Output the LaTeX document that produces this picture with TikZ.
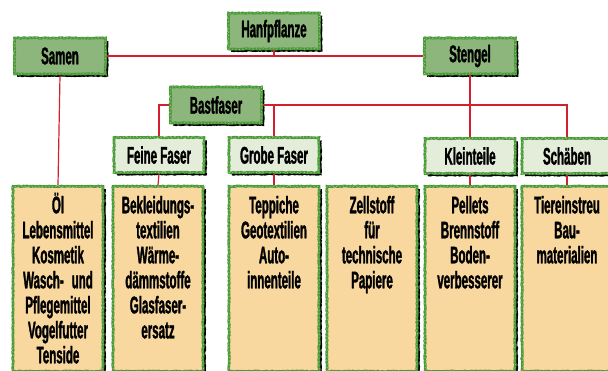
\documentclass[tikz,border=0pt]{standalone}
\usepackage{fontspec}
\setmainfont{Liberation Sans}[FakeStretch=0.48, BoldFeatures={FakeBold=1.3}]
\usetikzlibrary{decorations.pathmorphing}
\definecolor{hanfgreen}{HTML}{8DB67C}
\definecolor{rimgreen}{HTML}{4A9A3A}
\definecolor{rimlight}{HTML}{9ACB80}
\definecolor{palegreen}{HTML}{E4ECDA}
\definecolor{sand}{HTML}{F8D89E}
\definecolor{linkred}{HTML}{D2202F}

\begin{document}
\begin{tikzpicture}[x=1pt, y=-1pt,
    box/.style={draw=rimgreen, line width=2.6pt,
        preaction={fill=black, transform canvas={shift={(2.8pt,-2.8pt)}}},
        postaction={draw=rimlight, line width=0.8pt, dash pattern=on 1pt off 2.5pt},
        decorate, decoration={random steps, segment length=1.5pt, amplitude=0.4pt},
        font=\bfseries\fontsize{24}{25}\selectfont, inner sep=0pt},
    main/.style={box, fill=hanfgreen, minimum width=91pt, minimum height=36pt},
    part/.style={box, fill=palegreen, minimum width=90pt, minimum height=35pt},
    use/.style={box, fill=sand, anchor=north, text width=88pt, align=center,
        inner xsep=1pt, inner ysep=11pt, text height=16pt, text depth=147pt},
    link/.style={draw=linkred, line width=1.2pt}]
    \useasboundingbox (0,0) rectangle (608,371);
    % top row
    \node[main] (hanf) at (274,31) {Hanfpflanze};
    \node[main] (samen) at (60,56) {Samen};
    \node[main] (stengel) at (470,56) {Stengel};
    \node[main] (bast) at (216,105) {Bastfaser};
    % parts
    \node[part] (feine) at (159,155) {Feine Faser};
    \node[part] (grobe) at (274,155) {Grobe Faser};
    \node[part] (klein) at (470,156) {Kleinteile};
    \node[part] (schaeben) at (567,156) {Schäben};
    % uses
    \node[use] (oel) at (58,185) {Öl\\Lebensmittel\\Kosmetik\\Wasch- und\\Pflegemittel\\Vogelfutter\\Tenside};
    \node[use] (bekl) at (158,185) {Bekleidungs-\\textilien\\Wärme-\\dämmstoffe\\Glasfaser-\\ersatz};
    \node[use] (tepp) at (274,185) {Teppiche\\Geotextilien\\Auto-\\innenteile};
    \node[use] (zell) at (372,185) {Zellstoff\\für\\technische\\Papiere};
    \node[use] (pellets) at (470,185) {Pellets\\Brennstoff\\Boden-\\verbesserer};
    \node[use] (tier) at (567,185) {Tiereinstreu\\Bau-\\materialien};
    % links
    \draw[link] (samen.east) -- (stengel.west);
    \draw[link] (hanf.south) -- (hanf |- samen);
    \draw[link] (samen.south) -- (oel.north);
    \draw[link] (stengel.south) -- (klein.north);
    \draw[link] (bast.east) -| (schaeben.north);
    \draw[link] (bast.west) -| (feine.north);
    \draw[link] (grobe |- bast) -- (grobe.north);
    \draw[link] (feine.south) -- (bekl.north);
    \draw[link] (grobe.south) -- (tepp.north);
    \draw[link] (klein.south) -- (pellets.north);
    \draw[link] (schaeben.south) -- (tier.north);
\end{tikzpicture}
\end{document}
